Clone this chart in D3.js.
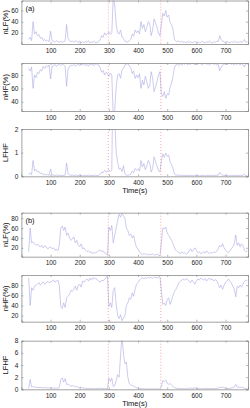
<!DOCTYPE html>
<html>
<head>
<meta charset="utf-8">
<script src="https://cdn.jsdelivr.net/npm/d3@7.9.0/dist/d3.min.js"></script>
<style>
  html, body { margin: 0; padding: 0; background: #fff; }
  svg { display: block; font-family: "Liberation Sans", Arial, sans-serif; }
  .tick text { font-size: 6.5px; fill: #222; }
  .lab { font-size: 7.5px; fill: #111; }
</style>
</head>
<body>
<div id="chart"></div>
<script>
// ---------- Data ----------
const time = [
  25,30,35,40,45,50,55,60,65,70,
  75,80,85,90,95,100,105,110,115,120,
  125,130,135,140,145,150,155,160,165,170,
  175,180,185,190,195,200,205,210,215,220,
  225,230,235,240,245,250,255,260,265,270,
  275,280,285,290,295,300,305,310,315,320,
  325,330,335,340,345,350,355,360,365,370,
  375,380,385,390,395,400,405,410,415,420,
  425,430,435,440,445,450,455,460,465,470,
  475,480,485,490,495,500,505,510,515,520,
  525,530,535,540,545,550,555,560,565,570,
  575,580,585,590,595,600,605,610,615,620,
  625,630,635,640,645,650,655,660,665,670,
  675,680,685,690,695,700,705,710,715,720,
  725,730,735,740,745,750,755,760,765,770,
  775
];

// subject (a)
const nlfA = [
  8,12,6,40,18,22,15,17,10,12,
  6,8,5,7,4,23,6,5,3,6,
  4,3,5,3,4,6,35,10,6,4,
  5,3,6,4,3,5,3,4,2,5,
  3,6,2,4,3,5,2,3,4,8,
  15,12,20,16,18,22,17,20,85,70,
  35,20,18,25,12,10,5,4,3,6,
  8,18,14,25,20,24,18,40,28,35,
  22,30,40,36,15,25,45,38,30,20,
  15,35,55,50,60,48,52,38,35,25,
  8,5,4,6,3,5,3,4,2,5,
  3,4,2,3,5,3,4,2,3,5,
  3,2,4,3,5,3,2,4,3,5,
  4,15,8,5,4,3,5,3,2,4,
  3,5,3,4,2,5,3,4,8,3,
  4
];
const nhfA = [
  90,86,92,60,80,76,84,82,88,86,
  93,90,94,92,95,74,93,94,96,93,
  95,96,94,96,95,93,63,88,93,95,
  94,96,93,95,96,94,96,95,97,94,
  96,93,97,95,96,94,97,96,95,91,
  84,87,80,84,82,78,83,80,15,28,
  62,80,82,75,88,90,95,96,97,94,
  91,82,86,75,80,76,82,60,72,65,
  78,70,60,64,85,75,55,62,70,80,
  85,52,48,55,45,52,50,62,68,78,
  92,95,96,94,97,95,97,96,98,95,
  97,96,98,97,95,97,96,98,97,95,
  97,98,96,97,95,97,98,96,97,95,
  96,86,92,95,96,97,95,97,98,96,
  97,95,97,96,98,95,97,96,92,97,
  96
];
const ratioA = [
  0.09,0.14,0.07,0.67,0.23,0.29,0.18,0.21,0.11,0.14,
  0.06,0.09,0.05,0.08,0.04,0.31,0.06,0.05,0.03,0.06,
  0.04,0.03,0.05,0.03,0.04,0.06,0.56,0.11,0.06,0.04,
  0.05,0.03,0.06,0.04,0.03,0.05,0.03,0.04,0.02,0.05,
  0.03,0.06,0.02,0.04,0.03,0.05,0.02,0.03,0.04,0.09,
  0.18,0.14,0.25,0.19,0.22,0.28,0.2,0.25,5.6,2.5,
  1.0,0.6,0.3,0.35,0.2,0.45,0.1,0.05,0.04,0.06,
  0.09,0.22,0.16,0.33,0.25,0.32,0.22,0.67,0.39,0.54,
  0.28,0.43,0.67,0.56,0.18,0.33,0.82,0.61,0.43,0.25,
  0.18,0.65,0.95,0.8,0.98,0.85,0.9,0.6,0.5,0.32,
  0.09,0.05,0.04,0.06,0.03,0.05,0.03,0.04,0.02,0.05,
  0.03,0.04,0.02,0.03,0.05,0.03,0.04,0.02,0.03,0.05,
  0.03,0.02,0.04,0.03,0.05,0.03,0.02,0.04,0.03,0.05,
  0.04,0.17,0.09,0.05,0.04,0.03,0.05,0.03,0.02,0.04,
  0.03,0.05,0.03,0.04,0.02,0.05,0.03,0.04,0.09,0.03,
  0.04
];

// subject (b)
const nlfB = [
  12,60,30,32,28,25,28,24,22,25,
  20,24,22,18,20,22,18,20,15,17,
  14,25,60,64,55,62,45,50,40,35,
  38,42,30,35,25,22,28,18,20,15,
  12,14,10,12,8,11,9,12,14,16,
  12,14,10,9,5,62,55,65,30,45,
  60,75,88,82,90,85,80,60,55,45,
  48,40,45,30,20,18,12,8,6,9,
  6,8,5,7,6,8,5,6,7,5,
  4,30,60,58,62,50,45,40,35,28,
  20,15,12,10,8,12,9,10,7,9,
  14,18,12,16,20,15,10,12,8,10,
  12,9,14,10,8,11,9,12,10,13,
  18,25,22,28,20,15,12,10,14,18,
  22,28,46,25,30,22,28,24,15,12,
  14
];
const nhfB = [
  94,40,75,70,78,80,82,85,80,84,
  86,82,84,88,85,86,88,90,86,88,
  90,80,38,34,45,36,55,58,62,70,
  68,72,78,70,80,82,76,88,86,90,
  92,88,94,90,95,92,94,90,88,86,
  90,88,92,94,98,38,45,36,70,75,
  42,20,14,22,10,15,20,40,45,55,
  52,65,58,72,82,85,90,93,95,92,
  95,93,96,94,95,93,96,95,94,96,
  97,68,42,45,40,52,55,42,50,60,
  68,72,78,85,88,90,92,90,93,91,
  88,85,90,86,82,88,92,90,94,92,
  90,93,88,92,94,90,92,88,91,89,
  82,75,80,72,80,86,88,92,88,84,
  78,72,57,78,75,80,76,82,88,90,
  88
];
const ratioB = [
  0.13,1.6,0.4,0.45,0.36,0.31,0.34,0.28,0.27,0.3,
  0.23,0.29,0.26,0.2,0.24,0.26,0.2,0.22,0.17,0.19,
  0.16,0.31,1.55,1.9,1.2,1.75,0.8,0.86,0.65,0.5,
  0.56,0.58,0.38,0.5,0.31,0.27,0.37,0.2,0.23,0.17,
  0.13,0.16,0.11,0.13,0.08,0.12,0.1,0.13,0.16,0.19,
  0.13,0.16,0.11,0.1,0.05,1.8,1.3,1.85,0.45,0.6,
  1.5,2.4,2.0,5.5,9,5.8,4.2,4.5,2.0,0.9,
  0.7,0.6,0.5,0.4,0.25,0.2,0.13,0.09,0.06,0.1,
  0.06,0.09,0.05,0.07,0.06,0.09,0.05,0.06,0.07,0.05,
  0.04,0.44,1.43,1.29,1.55,0.96,0.82,0.95,0.7,0.47,
  0.29,0.21,0.15,0.12,0.09,0.13,0.1,0.11,0.08,0.1,
  0.16,0.21,0.13,0.19,0.24,0.17,0.11,0.13,0.09,0.11,
  0.13,0.1,0.16,0.11,0.09,0.12,0.1,0.14,0.11,0.15,
  0.22,0.33,0.28,0.39,0.25,0.17,0.14,0.11,0.16,0.21,
  0.28,0.39,0.81,0.32,0.4,0.28,0.37,0.29,0.17,0.13,
  0.16
];

const xTicks = [100, 200, 300, 400, 500, 600, 700];
const markers = [298, 478];

const panels = [
  { values: nlfA,   label: "nLF(%)", domain: [0, 78],  ticks: [20, 40, 60],     top: 0.5,  bottom: 44,    tag: "(a)" },
  { values: nhfA,   label: "nHF(%)", domain: [26, 98], ticks: [40, 60, 80],     top: 63,   bottom: 111 },
  { values: ratioA, label: "LFHF",   domain: [0, 2],   ticks: [0, 1, 2],        top: 129,  bottom: 176.3, xlabel: true },
  { values: nlfB,   label: "nLF(%)", domain: [2, 91],  ticks: [20, 40, 60, 80], top: 212.7, bottom: 256.7, tag: "(b)" },
  { values: nhfB,   label: "nHF(%)", domain: [8, 100], ticks: [20, 40, 60, 80], top: 275,  bottom: 321.7 },
  { values: ratioB, label: "LFHF",   domain: [0, 8],   ticks: [0, 2, 4, 6, 8],  top: 340.7, bottom: 389.3, xlabel: true }
];

// ---------- Chart ----------
const width = 250, height = 408;
const left = 21.4, right = 248;

const svg = d3.select("#chart").append("svg")
  .attr("width", width).attr("height", height);

const x = d3.scaleLinear().domain([0, 777]).range([left, right]);

panels.forEach((p, i) => {
  const y = d3.scaleLinear().domain(p.domain).range([p.bottom, p.top]);
  const g = svg.append("g");

  g.append("clipPath").attr("id", "clip" + i)
    .append("rect")
    .attr("x", left).attr("y", p.top)
    .attr("width", right - left).attr("height", p.bottom - p.top);

  // series
  const line = d3.line().x((d, j) => x(time[j])).y(d => y(d));
  g.append("path")
    .datum(p.values)
    .attr("clip-path", `url(#clip${i})`)
    .attr("fill", "none")
    .attr("stroke", "#a9a9e2")
    .attr("stroke-width", 0.6)
    .attr("d", line);

  // red dotted markers
  g.selectAll(".marker").data(markers).join("line")
    .attr("x1", d => x(d)).attr("x2", d => x(d))
    .attr("y1", p.top).attr("y2", p.bottom)
    .attr("stroke", "#ff6a6a")
    .attr("stroke-width", 0.6)
    .attr("stroke-dasharray", "1,2");

  // axes (inward ticks on all sides)
  const axB = g.append("g").attr("transform", `translate(0,${p.bottom})`)
    .call(d3.axisBottom(x).tickValues(xTicks).tickSize(-2).tickPadding(4));
  const axT = g.append("g").attr("transform", `translate(0,${p.top})`)
    .call(d3.axisTop(x).tickValues(xTicks).tickSize(-2).tickFormat(""));
  const axL = g.append("g").attr("transform", `translate(${left},0)`)
    .call(d3.axisLeft(y).tickValues(p.ticks).tickSize(-2).tickPadding(3).tickFormat(d3.format("d")));
  const axR = g.append("g").attr("transform", `translate(${right},0)`)
    .call(d3.axisRight(y).tickValues(p.ticks).tickSize(-2).tickFormat(""));

  [axB, axT, axL, axR].forEach(a => {
    a.select(".domain").attr("stroke", "#8a8a8a").attr("stroke-width", 0.8);
    a.selectAll(".tick line").attr("stroke", "#8a8a8a").attr("stroke-width", 0.6);
  });

  g.append("text").attr("class", "lab")
    .attr("transform", `translate(8,${(p.top + p.bottom) / 2}) rotate(-90)`)
    .attr("text-anchor", "middle")
    .text(p.label);

  if (p.tag) {
    g.append("text").attr("class", "lab")
      .attr("x", left + 4).attr("y", p.top + 10)
      .text(p.tag);
  }
  if (p.xlabel) {
    g.append("text").attr("class", "lab")
      .attr("x", (left + right) / 2).attr("y", p.bottom + 17)
      .attr("text-anchor", "middle")
      .text("Time(s)");
  }
});
</script>
</body>
</html>
